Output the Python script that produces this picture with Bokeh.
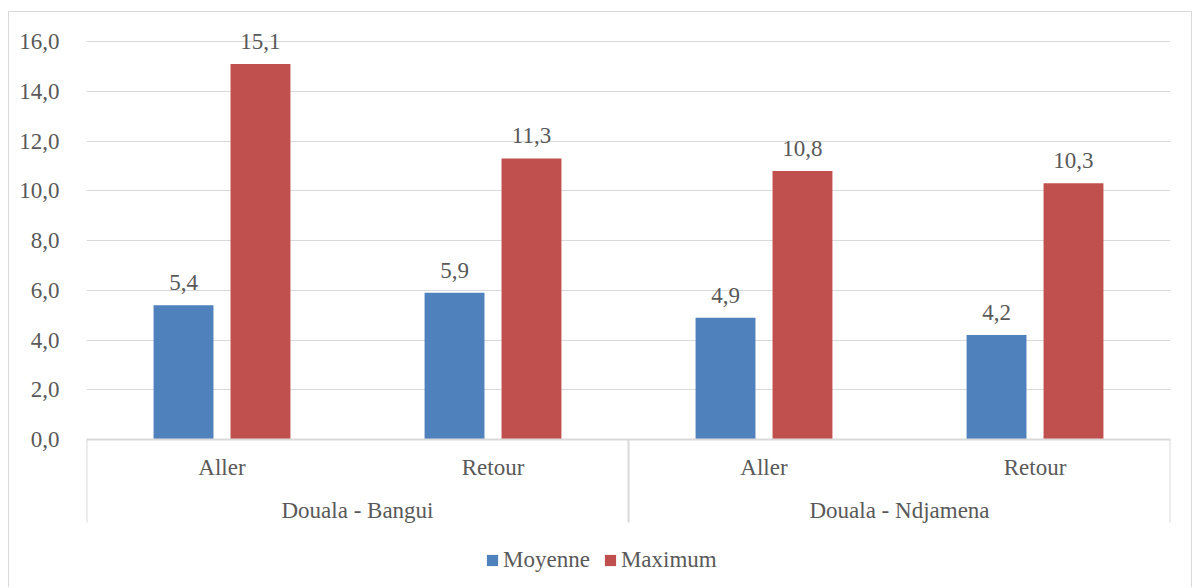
import math
from bokeh.plotting import figure
from bokeh.models import (ColumnDataSource, FixedTicker, Range1d, Span,
                          Legend, LegendItem)
from bokeh.transform import dodge
from bokeh.core.properties import value
from bokeh.embed import file_html
from bokeh.resources import INLINE

# ---- data ----
routes = ["Douala - Bangui", "Douala - Ndjamena"]
directions = ["Aller", "Retour", "Aller", "Retour"]
moyenne = [5.4, 5.9, 4.9, 4.2]
maximum = [15.1, 11.3, 10.8, 10.3]
y_ticks = [0, 2, 4, 6, 8, 10, 12, 14, 16]

FONT = "Liberation Serif"
FS = "23px"
TXT = "#595959"
GRID = "#d9d9d9"
BLUE = "#4f81bd"
RED = "#c0504d"

def fr(v):
    return f"{v:.1f}".replace(".", ",")

n = len(directions)
n_per_group = n // len(routes)
xs = [i + 0.5 for i in range(n)]
group_x = [g * n_per_group + n_per_group / 2 for g in range(len(routes))]
sep_x = [g * n_per_group for g in range(len(routes) + 1)]

src = ColumnDataSource(dict(
    x=xs, moy=moyenne, mx=maximum, cat=directions,
    moy_lbl=[fr(v) for v in moyenne], mx_lbl=[fr(v) for v in maximum],
))

# frame extends below zero (category labels, legend) and above 16 (data labels)
p = figure(width=1184, height=576, output_backend="svg", toolbar_location=None,
           x_range=Range1d(0, n), y_range=Range1d(-5.99, 17.17),
           x_axis_location=None,
           min_border_left=77, min_border_top=0, min_border_right=23,
           min_border_bottom=0, outline_line_color=None)
p.styles = {"border-top": "1px solid #d9d9d9", "border-left": "1px solid #d9d9d9",
            "border-right": "1px solid #d9d9d9",
            "margin-top": "11px", "margin-left": "8px"}
p.xgrid.visible = False

# y axis
p.yaxis.ticker = FixedTicker(ticks=y_ticks)
p.yaxis.major_label_overrides = {t: fr(t) for t in y_ticks}
p.yaxis.axis_line_color = None
p.yaxis.major_tick_line_color = None
p.yaxis.minor_tick_line_color = None
p.yaxis.major_label_standoff = 21
p.yaxis.major_label_text_font = FONT
p.yaxis.major_label_text_font_size = FS
p.yaxis.major_label_text_color = TXT
p.ygrid.ticker = FixedTicker(ticks=y_ticks)
p.ygrid.grid_line_color = GRID
p.ygrid.grid_line_width = 1

# category axis line
p.add_layout(Span(location=0, dimension="width", line_color=GRID, line_width=2))

# bars
w = 0.221
off = 0.142
r1 = p.vbar(x=dodge("x", -off, range=p.x_range), top="moy", width=w, source=src,
            fill_color=BLUE, line_color=None)
r2 = p.vbar(x=dodge("x", off, range=p.x_range), top="mx", width=w, source=src,
            fill_color=RED, line_color=None)

for col, lbl, o in (("moy", "moy_lbl", -off), ("mx", "mx_lbl", off)):
    p.text(x=dodge("x", o, range=p.x_range), y=col, text=lbl, source=src,
           text_align="center", text_baseline="bottom", y_offset=-15,
           text_font=value(FONT), text_font_size=FS, text_color=TXT)

# two-level category labels and separators
p.ray(x=sep_x, y=[0] * len(sep_x), length=83, length_units="screen",
      angle=-math.pi / 2, line_color=GRID, line_width=2)
p.text(x="x", y=0, text="cat", source=src, text_align="center",
       text_baseline="middle", y_offset=28,
       text_font=value(FONT), text_font_size=FS, text_color=TXT)
p.text(x=group_x, y=[0] * len(group_x), text=routes, text_align="center",
       text_baseline="middle", y_offset=71,
       text_font=value(FONT), text_font_size=FS, text_color=TXT)

legend = Legend(items=[LegendItem(label="Moyenne", renderers=[r1]),
                       LegendItem(label="Maximum", renderers=[r2])],
                orientation="horizontal", location=(399, 15),
                glyph_width=14, glyph_height=14, label_standoff=4, spacing=13,
                label_text_font=FONT, label_text_font_size=FS,
                label_text_color=TXT, border_line_color=None,
                background_fill_alpha=0, margin=0, padding=4)
p.add_layout(legend)

open("out.html", "w").write(file_html(p, INLINE))
